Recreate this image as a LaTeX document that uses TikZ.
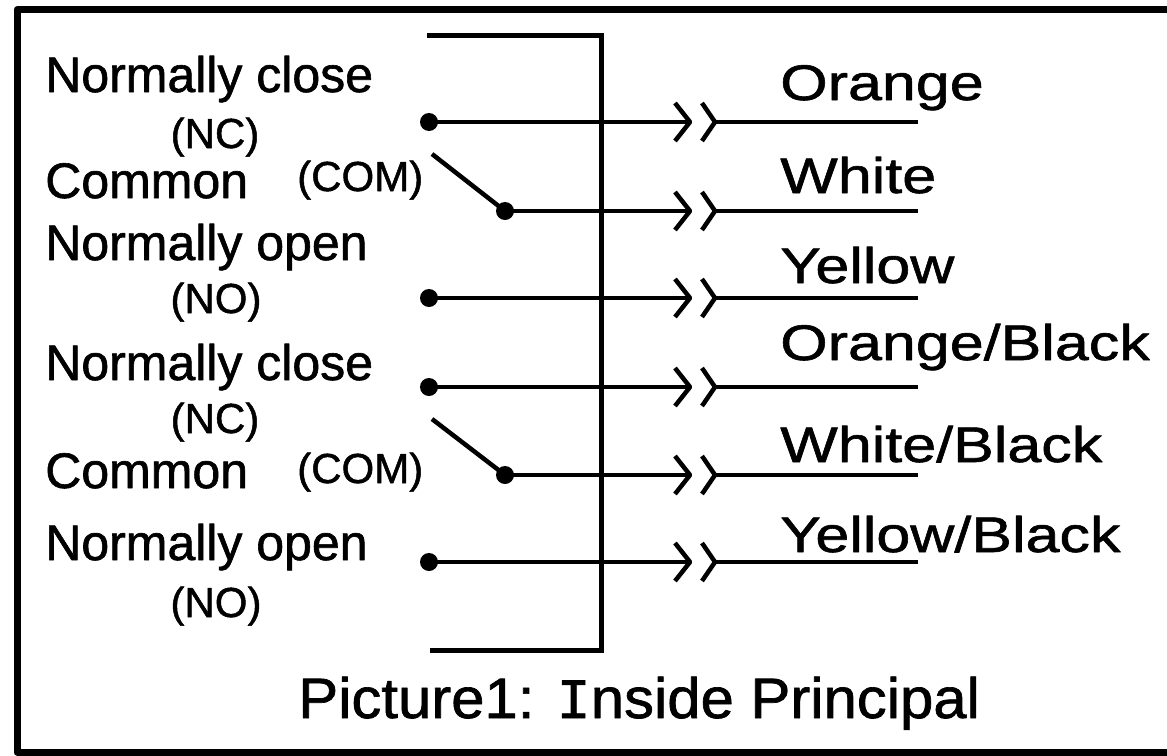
\documentclass[tikz,border=0pt]{standalone}
\usepackage{fontspec}
\setmainfont{Liberation Sans}[FakeBold=1.2]
\newfontfamily\wirefont[FakeStretch=1.22,FakeBold=1.2]{Liberation Sans}
\newfontfamily\capfont[FakeStretch=1.05,FakeBold=1.2]{Liberation Sans}
\newfontfamily\monoI[FakeBold=1.2]{Liberation Mono}
\usetikzlibrary{calc,positioning}

\begin{document}
\begin{tikzpicture}[x=1pt,y=-1pt,line width=4.5pt,line join=round,
	pin/.style={circle,fill,inner sep=0pt,minimum size=18pt},
	term/.style={anchor=base west,inner sep=0pt,font=\fontsize{50}{50}\selectfont},
	abbr/.style={anchor=base,inner sep=0pt,font=\fontsize{42}{42}\selectfont},
	colour/.style={anchor=base west,inner sep=0pt,font=\wirefont\fontsize{50}{50}\selectfont}]
	\useasboundingbox (0,0) rectangle (1167,755);
	% outer frame and the housing
	\draw[line width=7pt] (17,9.5) rectangle (1185,752);
	\draw[line width=5pt,line join=miter] (427,35) -- (601,35) -- (601,650) -- (430,650);
	% left side labels
	\node[term] (lnc1) at (43,92) {Normally close};
	\node[abbr] (anc1) at (215,148) {(NC)};
	\node[term] (lcom1) at (43,198) {Common};
	\node[abbr,anchor=base west] (acom1) at (295,191) {(COM)};
	\node[term] (lno1) at (43,260) {Normally open};
	\node[abbr] (ano1) at (216,313) {(NO)};
	\node[term] (lnc2) at (43,380) {Normally close};
	\node[abbr] (anc2) at (215,433) {(NC)};
	\node[term] (lcom2) at (43,488) {Common};
	\node[abbr,anchor=base west] (acom2) at (295,483) {(COM)};
	\node[term] (lno2) at (43,560) {Normally open};
	\node[abbr] (ano2) at (216,617) {(NO)};
	% contacts
	\node[pin] (nc1) at (429,122) {};
	\node[pin] (com1) at (505,211) {};
	\node[pin] (no1) at (429,298) {};
	\node[pin] (nc2) at (429,387) {};
	\node[pin] (com2) at (505,475) {};
	\node[pin] (no2) at (429,562) {};
	\coordinate (b1) at (432,154);
	\coordinate (b2) at (432,419);
	\draw (b1) -- (com1.center);
	\draw (b2) -- (com2.center);
	% plugs and leads
	\foreach \n/\c/\y in {1/nc1/122,2/com1/211,3/no1/298,4/nc2/387,5/com2/475,6/no2/562} {
		\coordinate (p\n) at (690,\y);
		\draw (\c.center) -- (p\n);
		\draw (p\n) ++(-15,-19) -- (p\n) -- ++(-15,19);
		\draw (p\n) ++(12,-19) -- ++(13,19) coordinate (q\n) -- ++(-13,19);
		\coordinate (e\n) at (918,\y);
		\draw (q\n) -- (e\n);
	}
	% wire colours
	\node[colour] (w1) at (778,100) {Orange};
	\node[colour] (w2) at (778,193) {White};
	\node[colour] (w3) at (778,283) {Yellow};
	\node[colour] (w4) at (778,360) {Orange/Black};
	\node[colour] (w5) at (778,462) {White/Black};
	\node[colour] (w6) at (778,552) {Yellow/Black};
	\node[anchor=base west,inner sep=0pt,font=\capfont\fontsize{57}{57}\selectfont] (cap) at (296,718) {Picture1: {\monoI I}nside Principal};
\end{tikzpicture}
\end{document}
